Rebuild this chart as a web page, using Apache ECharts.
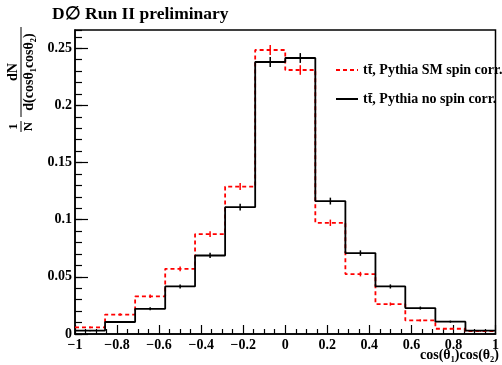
<!DOCTYPE html>
<html>
<head>
<meta charset="utf-8">
<script src="https://cdn.jsdelivr.net/npm/echarts@6/dist/echarts.min.js"></script>
<style>
html, body { margin: 0; padding: 0; background: #fff; }
#chart { width: 502px; height: 365px; }
</style>
</head>
<body>
<div id="chart"></div>
<script>
// bin edges of cos(theta1)cos(theta2), 14 bins
var binEdges = [-1, -0.857, -0.714, -0.571, -0.429, -0.286, -0.143, 0, 0.143, 0.286, 0.429, 0.571, 0.714, 0.857, 1];
var seriesNames = ['tt\u0304, Pythia SM spin corr.', 'tt\u0304, Pythia no spin corr.'];
var spinCorr = [0.0058, 0.017, 0.033, 0.057, 0.0874, 0.129, 0.2485, 0.231, 0.0973, 0.0524, 0.0262, 0.0119, 0.0046, 0.0025];
var spinCorrErr = [0.0007, 0.0011, 0.0016, 0.002, 0.0025, 0.0031, 0.0044, 0.0042, 0.0028, 0.002, 0.0014, 0.001, 0.0006, 0.0005];
var noSpin = [0.003, 0.0105, 0.022, 0.0416, 0.0687, 0.111, 0.238, 0.2415, 0.1163, 0.0708, 0.0416, 0.0227, 0.0108, 0.003];
var noSpinErr = [0.0005, 0.0009, 0.0013, 0.0018, 0.0023, 0.003, 0.0043, 0.0043, 0.003, 0.0024, 0.0018, 0.0013, 0.0009, 0.0005];
var yTicks = [0, 0.05, 0.1, 0.15, 0.2, 0.25];

var font = 'Liberation Serif';

function stepData(vals) {
  var d = [];
  for (var i = 0; i < vals.length; i++) d.push([binEdges[i], vals[i]]);
  d.push([binEdges[binEdges.length - 1], vals[vals.length - 1]]);
  return d;
}
function errData(vals, errs) {
  var d = [];
  for (var i = 0; i < vals.length; i++) d.push([(binEdges[i] + binEdges[i + 1]) / 2, vals[i], errs[i]]);
  return d;
}
function errSeries(vals, errs, color) {
  return {
    type: 'custom',
    data: errData(vals, errs),
    z: 3,
    renderItem: function (params, api) {
      var x = api.value(0), v = api.value(1), e = api.value(2);
      var a = api.coord([x, v + e]);
      var b = api.coord([x, v - e]);
      return {
        type: 'line',
        shape: { x1: a[0], y1: a[1], x2: b[0], y2: b[1] },
        style: { stroke: color, lineWidth: 1.5 }
      };
    }
  };
}

var labelStyle = { color: '#000', fontFamily: font, fontWeight: 'bold', fontSize: 14 };

var option = {
  animation: false,
  title: {
    text: 'D\u2205 Run II preliminary',
    left: 52, top: 5, padding: 0,
    textStyle: { color: '#000', fontFamily: font, fontWeight: 'bold', fontSize: 17.5 }
  },
  legend: {
    data: seriesNames,
    orient: 'vertical',
    left: 330, top: 58,
    itemWidth: 22, itemHeight: 14, itemGap: 15,
    itemStyle: { opacity: 0 },
    textStyle: { color: '#000', fontFamily: font, fontWeight: 'bold', fontSize: 14 }
  },
  grid: {
    left: 75, right: 2, top: 30, bottom: 31,
    show: true, borderColor: '#000', borderWidth: 1.5
  },
  xAxis: {
    type: 'value', min: -1, max: 1, interval: 0.2,
    axisLine: { show: true, onZero: false, lineStyle: { color: '#000', width: 1.5 } },
    axisTick: { inside: true, length: 9, lineStyle: { color: '#000', width: 1.2 } },
    minorTick: { show: true, splitNumber: 4, length: 5, lineStyle: { color: '#000', width: 1.2 } },
    splitLine: { show: false },
    axisLabel: Object.assign({ margin: 4, formatter: function (v) { return String(v).replace('-', '\u2212'); } }, labelStyle)
  },
  yAxis: [{
    type: 'value', min: 0, max: 0.266, interval: 0.05,
    axisLine: { show: true, onZero: false, lineStyle: { color: '#000', width: 1.5 } },
    axisTick: { inside: true, length: 13, lineStyle: { color: '#000', width: 1.2 } },
    splitLine: { show: false },
    axisLabel: Object.assign({
      margin: 3, showMaxLabel: false,
      formatter: function (v) { return yTicks.indexOf(v) >= 0 ? String(v) : ''; }
    }, labelStyle)
  }, {
    type: 'value', min: 0, max: 0.266, interval: 0.01, position: 'left',
    axisLine: { show: false, onZero: false },
    axisTick: { show: true, inside: true, length: 7, lineStyle: { color: '#000', width: 1.2 } },
    splitLine: { show: false },
    axisLabel: { show: false }
  }],
  graphic: [{
    type: 'group', x: 21, y: 133, rotation: Math.PI / 2,
    children: [
      { type: 'line', shape: { x1: 1, y1: 0, x2: 12, y2: 0 }, style: { stroke: '#000', lineWidth: 1 } },
      { type: 'text', x: 6.5, y: -1, style: { text: '1', fill: '#000', font: 'bold 13px ' + font, textAlign: 'center', textVerticalAlign: 'bottom' } },
      { type: 'text', x: 6.5, y: 1, style: { text: 'N', fill: '#000', font: 'bold 13px ' + font, textAlign: 'center', textVerticalAlign: 'top' } },
      { type: 'line', shape: { x1: 16, y1: 0, x2: 106, y2: 0 }, style: { stroke: '#000', lineWidth: 1 } },
      { type: 'text', x: 61, y: -1, style: { text: 'dN', fill: '#000', font: 'bold 14px ' + font, textAlign: 'center', textVerticalAlign: 'bottom' } },
      { type: 'text', x: 61, y: 1, style: { text: 'd(cos\u03b8\u2081cos\u03b8\u2082)', fill: '#000', font: 'bold 14px ' + font, textAlign: 'center', textVerticalAlign: 'top' } }
    ]
  }, {
    type: 'text', left: 420, top: 348,
    style: { text: 'cos(\u03b8\u2081)cos(\u03b8\u2082)', fill: '#000', font: 'bold 14px ' + font }
  }],
  series: [{
    name: seriesNames[0],
    type: 'line', step: 'end', symbol: 'none',
    data: stepData(spinCorr),
    z: 4,
    color: '#ff0000',
    lineStyle: { color: '#ff0000', width: 1.8, type: [4, 3] }
  }, {
    name: seriesNames[1],
    type: 'line', step: 'end', symbol: 'none',
    data: stepData(noSpin),
    z: 5,
    color: '#000',
    lineStyle: { color: '#000', width: 1.8 }
  },
  errSeries(spinCorr, spinCorrErr, '#ff0000'),
  errSeries(noSpin, noSpinErr, '#000')]
};

var myChart = echarts.init(document.getElementById('chart'));
myChart.setOption(option);
</script>
</body>
</html>
